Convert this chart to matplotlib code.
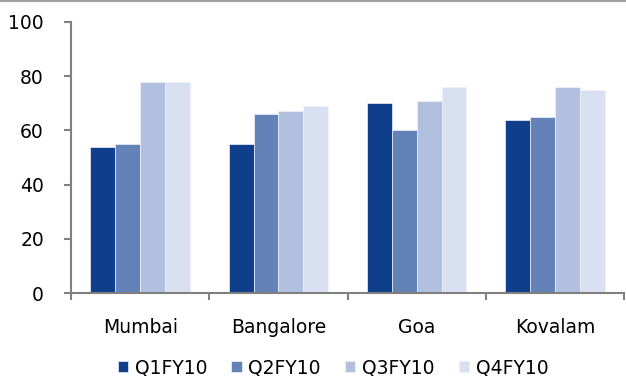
import matplotlib
matplotlib.use("Agg")
import matplotlib.pyplot as plt
import numpy as np

categories = ["Mumbai", "Bangalore", "Goa", "Kovalam"]
series_names = ["Q1FY10", "Q2FY10", "Q3FY10", "Q4FY10"]
q1 = [54, 55, 70, 64]
q2 = [55, 66, 60, 65]
q3 = [78, 67, 71, 76]
q4 = [78, 69, 76, 75]
series = [q1, q2, q3, q4]
colors = ["#0F3F8A", "#6282B8", "#B0C0DE", "#D9E0F2"]
yticks = [0, 20, 40, 60, 80, 100]

plt.rcParams["font.size"] = 13.5
fig = plt.figure(figsize=(6.26, 3.76), dpi=100)
ax = fig.add_axes([0.1134, 0.2207, 0.8836, 0.7208])

x = np.arange(len(categories))
bw = 0.18
for i, (name, vals, c) in enumerate(zip(series_names, series, colors)):
    ax.bar(x + (i - 1.5) * bw, vals, width=bw, color=c, label=name,
           edgecolor="#EEF1F8", linewidth=0.5)

ax.set_xlim(-0.5, len(categories) - 0.5)
ax.set_ylim(0, 100)
ax.set_yticks(yticks)
ax.set_xticks(x)
ax.set_xticklabels(categories)
ax.set_xticks(np.arange(len(categories) + 1) - 0.5, minor=True)
ax.tick_params(axis="x", which="major", length=0, pad=18, labelsize=13.5)
ax.tick_params(axis="x", which="minor", length=5, width=1.5, color="#808080", direction="out")
ax.tick_params(axis="y", length=5, width=1.5, color="#808080", direction="out", labelsize=13.5, pad=14.5)
for s in ["top", "right"]:
    ax.spines[s].set_visible(False)
for s in ["left", "bottom"]:
    ax.spines[s].set_color("#808080")
    ax.spines[s].set_linewidth(1.5)

leg = fig.legend(loc="center", bbox_to_anchor=(0.532, 0.022), ncol=4, frameon=False,
                 fontsize=13.5, handlelength=0.55, handleheight=0.55, handletextpad=0.35,
                 columnspacing=1.3)

fig.add_artist(plt.Line2D([0, 1], [0.998, 0.998], color="#A0A0A0", linewidth=1.5,
                          transform=fig.transFigure))

fig.savefig("out.png", dpi=100)
